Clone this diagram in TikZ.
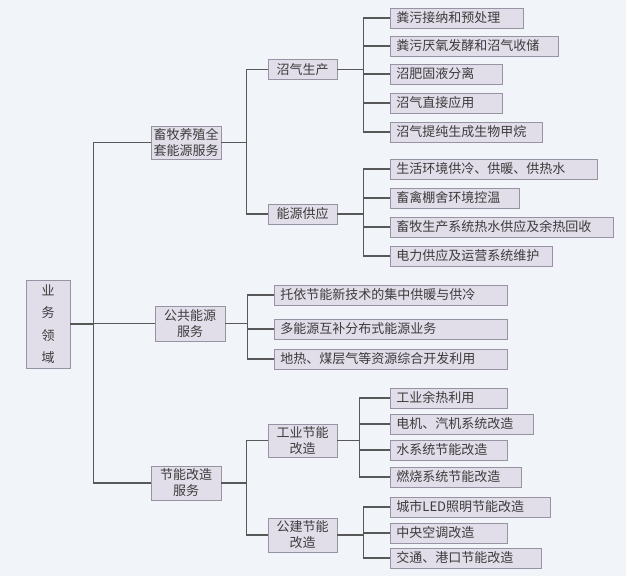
\documentclass[tikz,border=0pt]{standalone}
\usepackage{fontspec}
\setmainfont{Noto Sans CJK SC}
\usepackage{xcolor}
\usepackage{tikz}
\definecolor{bgcol}{HTML}{F1F4F9}
\definecolor{boxfill}{HTML}{E1DDE9}
\definecolor{boxline}{HTML}{9793A3}
\definecolor{linkcol}{HTML}{585858}
\definecolor{txtcol}{HTML}{3C3C3C}
\tikzset{
  base/.style={draw=boxline,fill=boxfill,text=txtcol,line width=0.9pt,inner sep=0pt,
    font=\fontsize{13}{16}\selectfont,align=center},
  leaf/.style={base,anchor=west,minimum height=20pt,text width=#1,align=left,inner xsep=6pt},
  link/.style={draw=linkcol,line width=1.3pt}
}

\begin{document}
\begin{tikzpicture}[x=1pt,y=-1pt]
\fill[bgcol] (0,0) rectangle (626,576);
\useasboundingbox (0,0) rectangle (626,576);
\node[base,minimum width=44pt,minimum height=88pt,font=\fontsize{13}{22.5}\selectfont] (root) at (48,324) {业\\务\\领\\域};
\node[base,minimum width=70pt,minimum height=33pt] (a1) at (186,142.5) {畜牧养殖全\\套能源服务};
\node[base,minimum width=70pt,minimum height=35pt] (a2) at (190,323.5) {公共能源\\服务};
\node[base,minimum width=70pt,minimum height=34pt] (a3) at (186,483) {节能改造\\服务};
\foreach \a in {a1,a2,a3}{
  \draw[link] (root.east) -- ++(23,0) |- (\a.west);
}
\node[base,minimum width=69pt,minimum height=20pt] (m1) at (302.5,69.5) {沼气生产};
\node[base,minimum width=69pt,minimum height=20pt] (m2) at (302.5,214) {能源供应};
\node[base,minimum width=69pt,minimum height=33pt] (m3) at (302.5,440.5) {工业节能\\改造};
\node[base,minimum width=69pt,minimum height=34pt] (m4) at (302.5,535) {公建节能\\改造};
\draw[link] (a1.east) -- ++(25,0) |- (m1.west);
\draw[link] (a1.east) -- ++(25,0) |- (m2.west);
\draw[link] (a3.east) -- ++(25,0) |- (m3.west);
\draw[link] (a3.east) -- ++(25,0) |- (m4.west);
\foreach \n/\y/\w/\t in {1/18/121pt/粪污接纳和预处理,2/46/156pt/粪污厌氧发酵和沼气收储,
    3/74/100pt/沼肥固液分离,4/103/100pt/沼气直接应用,5/132/140pt/沼气提纯生成生物甲烷}{
  \node[leaf=\w] (l\n) at (390,\y) {\t};
  \draw[link] (m1.east) -- ++(26,0) |- (l\n.west);
}
\foreach \n/\y/\w/\t in {6/169/195pt/生活环境供冷、供暖、供热水,7/198/117pt/畜禽棚舍环境控温,
    8/227/211pt/畜牧生产系统热水供应及余热回收,9/256/150pt/电力供应及运营系统维护}{
  \node[leaf=\w] (l\n) at (390,\y) {\t};
  \draw[link] (m2.east) -- ++(26,0) |- (l\n.west);
}
\foreach \n/\y/\t in {10/295/托依节能新技术的集中供暖与供冷,11/329/多能源互补分布式能源业务,
    12/359/地热、煤层气等资源综合开发利用}{
  \node[leaf=221pt] (l\n) at (274,\y) {\t};
  \draw[link] (a2.east) -- ++(22,0) |- (l\n.west);
}
\foreach \n/\y/\w/\t in {13/398/105pt/工业余热利用,14/424/131pt/电机、汽机系统改造,
    15/450/105pt/水系统节能改造,16/477/119pt/燃烧系统节能改造}{
  \node[leaf=\w] (l\n) at (390,\y) {\t};
  \draw[link] (m3.east) -- ++(22,0) |- (l\n.west);
}
\foreach \n/\y/\w/\t in {17/507/148pt/城市LED照明节能改造,18/533/105pt/中央空调改造,
    19/558/139pt/交通、港口节能改造}{
  \node[leaf=\w] (l\n) at (390,\y) {\t};
  \draw[link] (m4.east) -- ++(26,0) |- (l\n.west);
}
\end{tikzpicture}
\end{document}
